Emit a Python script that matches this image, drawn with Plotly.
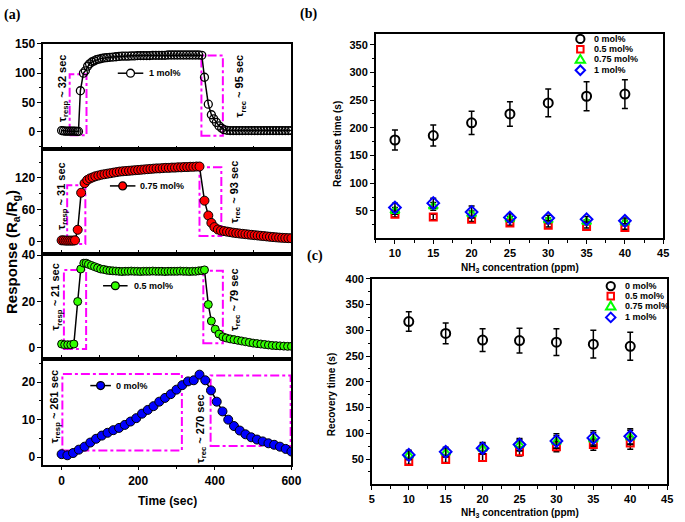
import plotly.graph_objects as go

W, H = 685, 522
def px(x): return x / W
def py(y): return 1 - y / H

FONT = "Liberation Sans"
MAG = "#FF00FF"

# ---------------- Panel (a) data ----------------
t_1mol = [0, 5, 10, 15, 20, 25, 30, 35, 40, 44,
          49, 57, 62, 68, 73, 79, 85, 91, 97, 104, 111, 118, 126, 134, 142, 150,
          158, 166, 174, 182, 190, 198, 206, 214, 222, 230, 238, 246, 254, 262, 270, 278,
          286, 294, 302, 310, 318, 326, 334, 342, 350, 358, 366,
          373, 383, 391, 397, 404, 411, 418, 424,
          432, 440, 448, 456, 464, 472, 480, 488, 496, 504, 512, 520, 528, 536, 544, 552,
          560, 568, 576, 584, 592, 600]
r_1mol = [2, 1.5, 1, 1, 1, 1, 1, 1, 0.5, 0.5,
          70, 100, 104, 112, 116, 119, 121, 123, 124, 125, 126, 126.5, 127, 127.5, 128, 128.5,
          129, 129, 129, 129.5, 129.5, 130, 130, 130, 130, 130, 130.5, 130.5, 130.5, 130.5, 130.5, 131,
          131, 131, 131, 131, 131, 131, 131, 131, 131, 131, 130.5,
          93, 47, 29, 22, 16, 10, 6, 3.5,
          2.5, 2, 2, 2, 2, 2, 2, 2, 2, 2, 2, 2, 2, 2, 2, 2,
          2, 2, 2, 2, 2, 2]

t_075mol = [0, 5, 10, 15, 20, 25, 30, 35,
            42, 51, 60, 67, 74, 81, 88, 96, 104, 112, 120, 128, 136, 144, 152, 160, 168, 176,
            184, 192, 200, 208, 216, 224, 232, 240, 248, 256, 264, 272, 280, 288, 296, 304,
            312, 320, 328, 336, 344, 352, 360,
            373, 383, 391, 399, 408,
            416, 424, 432, 440, 448, 456, 464, 472, 480, 488, 496, 504, 512, 520, 528, 536,
            544, 552, 560, 568, 576, 584, 592, 600]
r_075mol = [2, 2, 1.5, 1.5, 1.5, 1.5, 1.5, 2,
            22, 92, 110, 116, 119, 121, 123, 124.5, 126, 127, 128, 129, 130, 131, 132, 132.5, 133, 133.5,
            134, 134.5, 135, 135.5, 136, 136.5, 137, 137.5, 138, 138, 138.5, 139, 139, 139.5, 139.5, 140,
            140, 140.5, 140.5, 141, 141, 141.5, 141.5,
            77, 49, 35, 27, 22.5,
            20.5, 19.5, 18.5, 17.5, 16.5, 15.7, 15, 14.3, 13.7, 13, 12.4, 11.8, 11.2, 10.6, 10, 9.4,
            8.8, 8.2, 7.7, 7.2, 6.8, 6.5, 6.2, 6]

t_05mol = [0, 8, 16, 24, 32,
           42, 50, 58, 64, 70, 78, 86, 94, 102, 110, 118, 126, 134, 142,
           150, 158, 166, 174, 182, 190, 198, 206, 214, 222, 230, 238, 246, 254, 262, 270,
           278, 286, 294, 302, 310, 318, 326, 334, 342, 350, 358, 366,
           373, 383, 391, 401, 411, 421,
           430, 440, 450, 460, 470, 480, 490, 500, 510, 520, 530, 540, 550, 560, 570, 580, 590, 600]
r_05mol = [1.7, 1.4, 1.4, 1.4, 1.7,
           20, 34, 36.5, 36.5, 36, 35.5, 35, 34.5, 34, 33.8, 33.5, 33.3, 33.2, 33.1,
           33, 32.9, 33, 33, 33.1, 33, 33, 32.9, 33, 33, 33, 33.1, 33, 33, 33, 32.9,
           33, 33, 33, 33, 33.1, 33, 33, 32.9, 33, 33, 33.2, 33.3,
           33.6, 18.7, 11.6, 8.1, 6, 4.8,
           4.3, 3.9, 3.6, 3.3, 3.0, 2.7, 2.4, 2.1, 1.9, 1.7, 1.5, 1.3, 1.1, 1.0, 0.9, 0.8, 0.7, 0.7]

t_0mol = [0, 15, 30, 45, 60, 75, 90, 105, 120, 135, 150, 165, 180, 195, 210, 225, 240, 255,
          270, 285, 300, 315, 330, 345, 360, 375, 390, 405, 420, 435, 450, 465, 480, 495,
          510, 525, 540, 555, 570, 585, 600]
r_0mol = [0.8, 0.5, 1.1, 2.0, 2.8, 3.9, 4.9, 5.75, 6.5, 7.2, 7.8, 8.6, 9.5, 10.4, 11.6, 12.6,
          13.6, 14.8, 15.8, 16.8, 18.0, 19.2, 20.2, 20.5, 22.0, 20.5, 17.8, 14.8, 12.2, 10.0,
          8.3, 7.1, 6.1, 5.3, 4.7, 4.2, 3.7, 3.3, 2.8, 2.2, 1.5]

# response / recovery time annotation boxes (data units: t0, t1, r0, r1)
box_resp = [(21, 65, -6, 98), (14.5, 62, -5, 106), (6, 64, -0.4, 33.6), (2, 314, 1.8, 22.2)]
box_rec = [(365, 421, -7, 130), (360, 417, 10, 140), (370, 421, 2, 33.2), (389, 598, 3, 21.8)]
resp_labels = ["32", "31", "21", "261"]
rec_labels = ["95", "93", "79", "270"]

# ---------------- Panels (b), (c) data ----------------
conc = [10, 15, 20, 25, 30, 35, 40]
resp_0 = [178, 186, 209, 225, 245, 257, 261]
resp_0_err = [18, 19, 21, 22, 25, 26, 26]
resp_05 = [44, 39, 35, 28, 24, 22, 20]
resp_05_err = [5, 5, 4, 4, 3, 3, 3]
resp_075 = [50, 58, 44, 35, 33, 30, 29]
resp_075_err = [6, 7, 6, 5, 4, 4, 4]
resp_1 = [56, 64, 48, 38, 37, 35, 32]
resp_1_err = [8, 9, 11, 7, 5, 5, 5]

rec_0 = [317, 294, 281, 280, 277, 273, 269]
rec_0_err = [19, 20, 22, 24, 26, 27, 27]
rec_05 = [45, 49, 53, 64, 74, 78, 81]
rec_05_err = [5, 6, 7, 8, 10, 11, 12]
rec_075 = [57, 62, 70, 77, 83, 88, 92]
rec_075_err = [8, 8, 10, 11, 12, 13, 14]
rec_1 = [58, 64, 71, 78, 85, 91, 94]
rec_1_err = [9, 9, 11, 12, 14, 14, 15]

dopings = ["0 mol%", "0.5 mol%", "0.75 mol%", "1 mol%"]

fig = go.Figure()

# ---- panel (a) traces ----
a_series = [
    (t_1mol, r_1mol, "1 mol%", dict(symbol="circle-open", size=8, color="black", line=dict(width=1.3, color="black"))),
    (t_075mol, r_075mol, "0.75 mol%", dict(symbol="circle", size=9, color="#FF0000", line=dict(width=1, color="black"))),
    (t_05mol, r_05mol, "0.5 mol%", dict(symbol="circle", size=8, color="#33FF00", line=dict(width=1, color="black"))),
    (t_0mol, r_0mol, "0 mol%", dict(symbol="circle", size=9, color="#0000FF", line=dict(width=1, color="black"))),
]
for i, (t, r, name, mk) in enumerate(a_series):
    sfx = "" if i == 0 else str(i + 1)
    fig.add_trace(go.Scatter(x=t, y=r, mode="lines+markers", name=name,
                             line=dict(color="black", width=1.5), marker=mk,
                             xaxis="x" + sfx, yaxis="y" + sfx, showlegend=False))

# ---- panels (b), (c) traces ----
sym = [("circle-open", "black", 9), ("square-open", "#FF0000", 7),
       ("triangle-up-open", "#00FF00", 8), ("diamond-open", "#0000FF", 9)]
b_vals = [(resp_0, resp_0_err), (resp_05, resp_05_err), (resp_075, resp_075_err), (resp_1, resp_1_err)]
c_vals = [(rec_0, rec_0_err), (rec_05, rec_05_err), (rec_075, rec_075_err), (rec_1, rec_1_err)]
for ax, vals in (("5", b_vals), ("6", c_vals)):
    for (s, col, sz), (v, e), name in zip(sym, vals, dopings):
        fig.add_trace(go.Scatter(
            x=conc, y=v, mode="markers", name=name, showlegend=False,
            marker=dict(symbol=s, color=col, size=sz, line=dict(width=2, color=col)),
            error_y=dict(type="data", array=e, visible=True, color="black", thickness=1.5, width=3),
            xaxis="x" + ax, yaxis="y" + ax))

# ---------------- axes ----------------
def axstyle(**kw):
    d = dict(showline=True, linecolor="black", linewidth=1.5, mirror=True, showgrid=False,
             zeroline=False, tickcolor="black", tickwidth=1.2,
             tickfont=dict(family=FONT, size=12, color="black", weight="bold"))
    d.update(kw)
    return d

a_xdom = [px(41), px(294)]
a_ydoms = [(145, 38), (251, 145), (357, 251), (464, 357)]
a_yranges = [[-30, 150.5], [-24, 174], [-4.7, 40.4], [-2, 26.2]]
a_ydticks = [50, 60, 20, 10]
layout = {}
for i in range(4):
    sfx = "" if i == 0 else str(i + 1)
    last = i == 3
    layout["xaxis" + sfx] = axstyle(
        domain=a_xdom, range=[-48, 600], anchor="y" + sfx,
        ticks="outside" if last else "inside", ticklen=4,
        dtick=200 if last else 100, tick0=0, showticklabels=last,
        minor=dict(dtick=100, ticklen=3, ticks="outside", tickcolor="black") if last else None)
    b, t = a_ydoms[i]
    layout["yaxis" + sfx] = axstyle(
        domain=[py(b), py(t)], range=a_yranges[i], anchor="x" + sfx,
        ticks="outside", ticklen=4, dtick=a_ydticks[i], tick0=0,
        minor=dict(dtick=a_ydticks[i] / 2, ticklen=2.5, ticks="outside", tickcolor="black"))

bc_font = dict(family=FONT, size=11, color="black", weight="bold")
layout["xaxis5"] = axstyle(domain=[px(380), px(673)], range=[7.5, 45], anchor="y5",
                           ticks="outside", ticklen=4, dtick=5, tick0=0, tickfont=bc_font,
                           minor=dict(dtick=2.5, ticklen=2.5, ticks="outside", tickcolor="black"))
layout["yaxis5"] = axstyle(domain=[py(235), py(28)], range=[0.5, 370], anchor="x5",
                           ticks="outside", ticklen=4, dtick=50, tick0=0, tickfont=bc_font,
                           minor=dict(dtick=25, ticklen=2.5, ticks="outside", tickcolor="black"))
layout["xaxis6"] = axstyle(domain=[px(376), px(677)], range=[5, 45], anchor="y6",
                           ticks="outside", ticklen=4, dtick=5, tick0=0, tickfont=bc_font,
                           minor=dict(dtick=2.5, ticklen=2.5, ticks="outside", tickcolor="black"))
layout["yaxis6"] = axstyle(domain=[py(484), py(276)], range=[0.6, 400], anchor="x6",
                           ticks="outside", ticklen=4, dtick=50, tick0=0, tickfont=bc_font,
                           minor=dict(dtick=25, ticklen=2.5, ticks="outside", tickcolor="black"))

# ---------------- shapes ----------------
shapes = []
for i in range(4):
    sfx = "" if i == 0 else str(i + 1)
    for (x0, x1, y0, y1) in (box_resp[i], box_rec[i]):
        shapes.append(dict(type="rect", xref="x" + sfx, yref="y" + sfx, x0=x0, x1=x1, y0=y0, y1=y1,
                           line=dict(color=MAG, width=2, dash="dashdot"), layer="below"))

# legend samples for panel (a)
a_leg = [  # (line x0, line x1, y, text x, fill, label)
    (117, 143, 68, 147, "white", "1 mol%"),
    (109, 135, 182, 138, "#FF0000", "0.75 mol%"),
    (102, 127, 283, 131, "#33FF00", "0.5 mol%"),
    (89, 110, 384, 113, "#0000FF", "0 mol%"),
]
annotations = []
for (x0, x1, y, tx, fill, lab) in a_leg:
    cx = (x0 + x1) / 2
    shapes.append(dict(type="line", xref="paper", yref="paper", x0=px(x0), x1=px(x1), y0=py(y), y1=py(y),
                       line=dict(color="black", width=1.5)))
    shapes.append(dict(type="circle", xref="paper", yref="paper", x0=px(cx - 4), x1=px(cx + 4),
                       y0=py(y + 4), y1=py(y - 4), fillcolor=fill, line=dict(color="black", width=1.3)))
    annotations.append(dict(x=px(tx), y=py(y), xref="paper", yref="paper", xanchor="left", yanchor="middle",
                            text="<b>%s</b>" % lab, showarrow=False,
                            font=dict(family=FONT, size=9, color="black")))

def legend_syms(cx, ys, tx):
    cols = ["black", "#FF0000", "#00FF00", "#0000FF"]
    y = ys[0]
    shapes.append(dict(type="circle", xref="paper", yref="paper", x0=px(cx - 4.2), x1=px(cx + 4.2),
                       y0=py(y + 4.2), y1=py(y - 4.2), line=dict(color=cols[0], width=2)))
    y = ys[1]
    shapes.append(dict(type="rect", xref="paper", yref="paper", x0=px(cx - 3.3), x1=px(cx + 3.3),
                       y0=py(y + 3.3), y1=py(y - 3.3), line=dict(color=cols[1], width=2)))
    y = ys[2]
    shapes.append(dict(type="path", xref="paper", yref="paper",
                       path="M %f %f L %f %f L %f %f Z" % (px(cx), py(y - 4.5), px(cx + 4.8), py(y + 3.5),
                                                         px(cx - 4.8), py(y + 3.5)),
                       line=dict(color=cols[2], width=2)))
    y = ys[3]
    shapes.append(dict(type="path", xref="paper", yref="paper",
                       path="M %f %f L %f %f L %f %f L %f %f Z" % (px(cx), py(y - 4.8), px(cx + 4.8), py(y),
                                                                 px(cx), py(y + 4.8), px(cx - 4.8), py(y)),
                       line=dict(color=cols[3], width=2)))
    for y, lab in zip(ys, dopings):
        annotations.append(dict(x=px(tx), y=py(y), xref="paper", yref="paper", xanchor="left",
                                yanchor="middle", text="<b>%s</b>" % lab, showarrow=False,
                                font=dict(family=FONT, size=9, color="black")))

legend_syms(588.5, [33.3, 43.8, 54, 65], 600)
legend_syms(619.5, [283.3, 293.5, 303.5, 315], 632)

# ---------------- text annotations ----------------
def ann(x, y, text, size, angle=0, family=FONT, **kw):
    d = dict(x=px(x), y=py(y), xref="paper", yref="paper", text=text, showarrow=False,
             textangle=angle, xanchor="center", yanchor="middle",
             font=dict(family=family, size=size, color="black"))
    d.update(kw)
    annotations.append(d)

resp_pos = [(61, 83), (60, 192), (54, 294), (53, 405)]
rec_pos = [(242, 81), (236, 188), (236, 297), (202, 428)]
for i in range(4):
    ann(*resp_pos[i], "<b>τ<sub>resp</sub> ~ %s sec</b>" % resp_labels[i], 11, -90)
    ann(*rec_pos[i], "<b>τ<sub>rec</sub> ~ %s sec</b>" % rec_labels[i], 11, -90)

ann(9, 249, "<b>Response (R<sub>a</sub>/R<sub>g</sub>)</b>", 15, -90)
ann(168, 501, "<b>Time (sec)</b>", 12)
ann(341, 140, "<b>Response time (s)</b>", 10, -90)
ann(335, 393, "<b>Recovery time (s)</b>", 10, -90)
ann(527, 265, "<b>NH<sub>3</sub> concentration (ppm)</b>", 10)
ann(527, 513, "<b>NH<sub>3</sub> concentration (ppm)</b>", 10)
ann(10, 9, "<b>(a)</b>", 14, family="Liberation Serif")
ann(311, 8, "<b>(b)</b>", 14, family="Liberation Serif")
ann(318, 253, "<b>(c)</b>", 14, family="Liberation Serif")

fig.update_layout(width=W, height=H, margin=dict(l=0, r=0, t=0, b=0),
                  paper_bgcolor="white", plot_bgcolor="white", showlegend=False,
                  shapes=shapes, annotations=annotations, **layout)

fig.write_html("out.html", config={"displayModeBar": False},
               post_script="document.body.style.margin='0';document.body.style.padding='0';")
